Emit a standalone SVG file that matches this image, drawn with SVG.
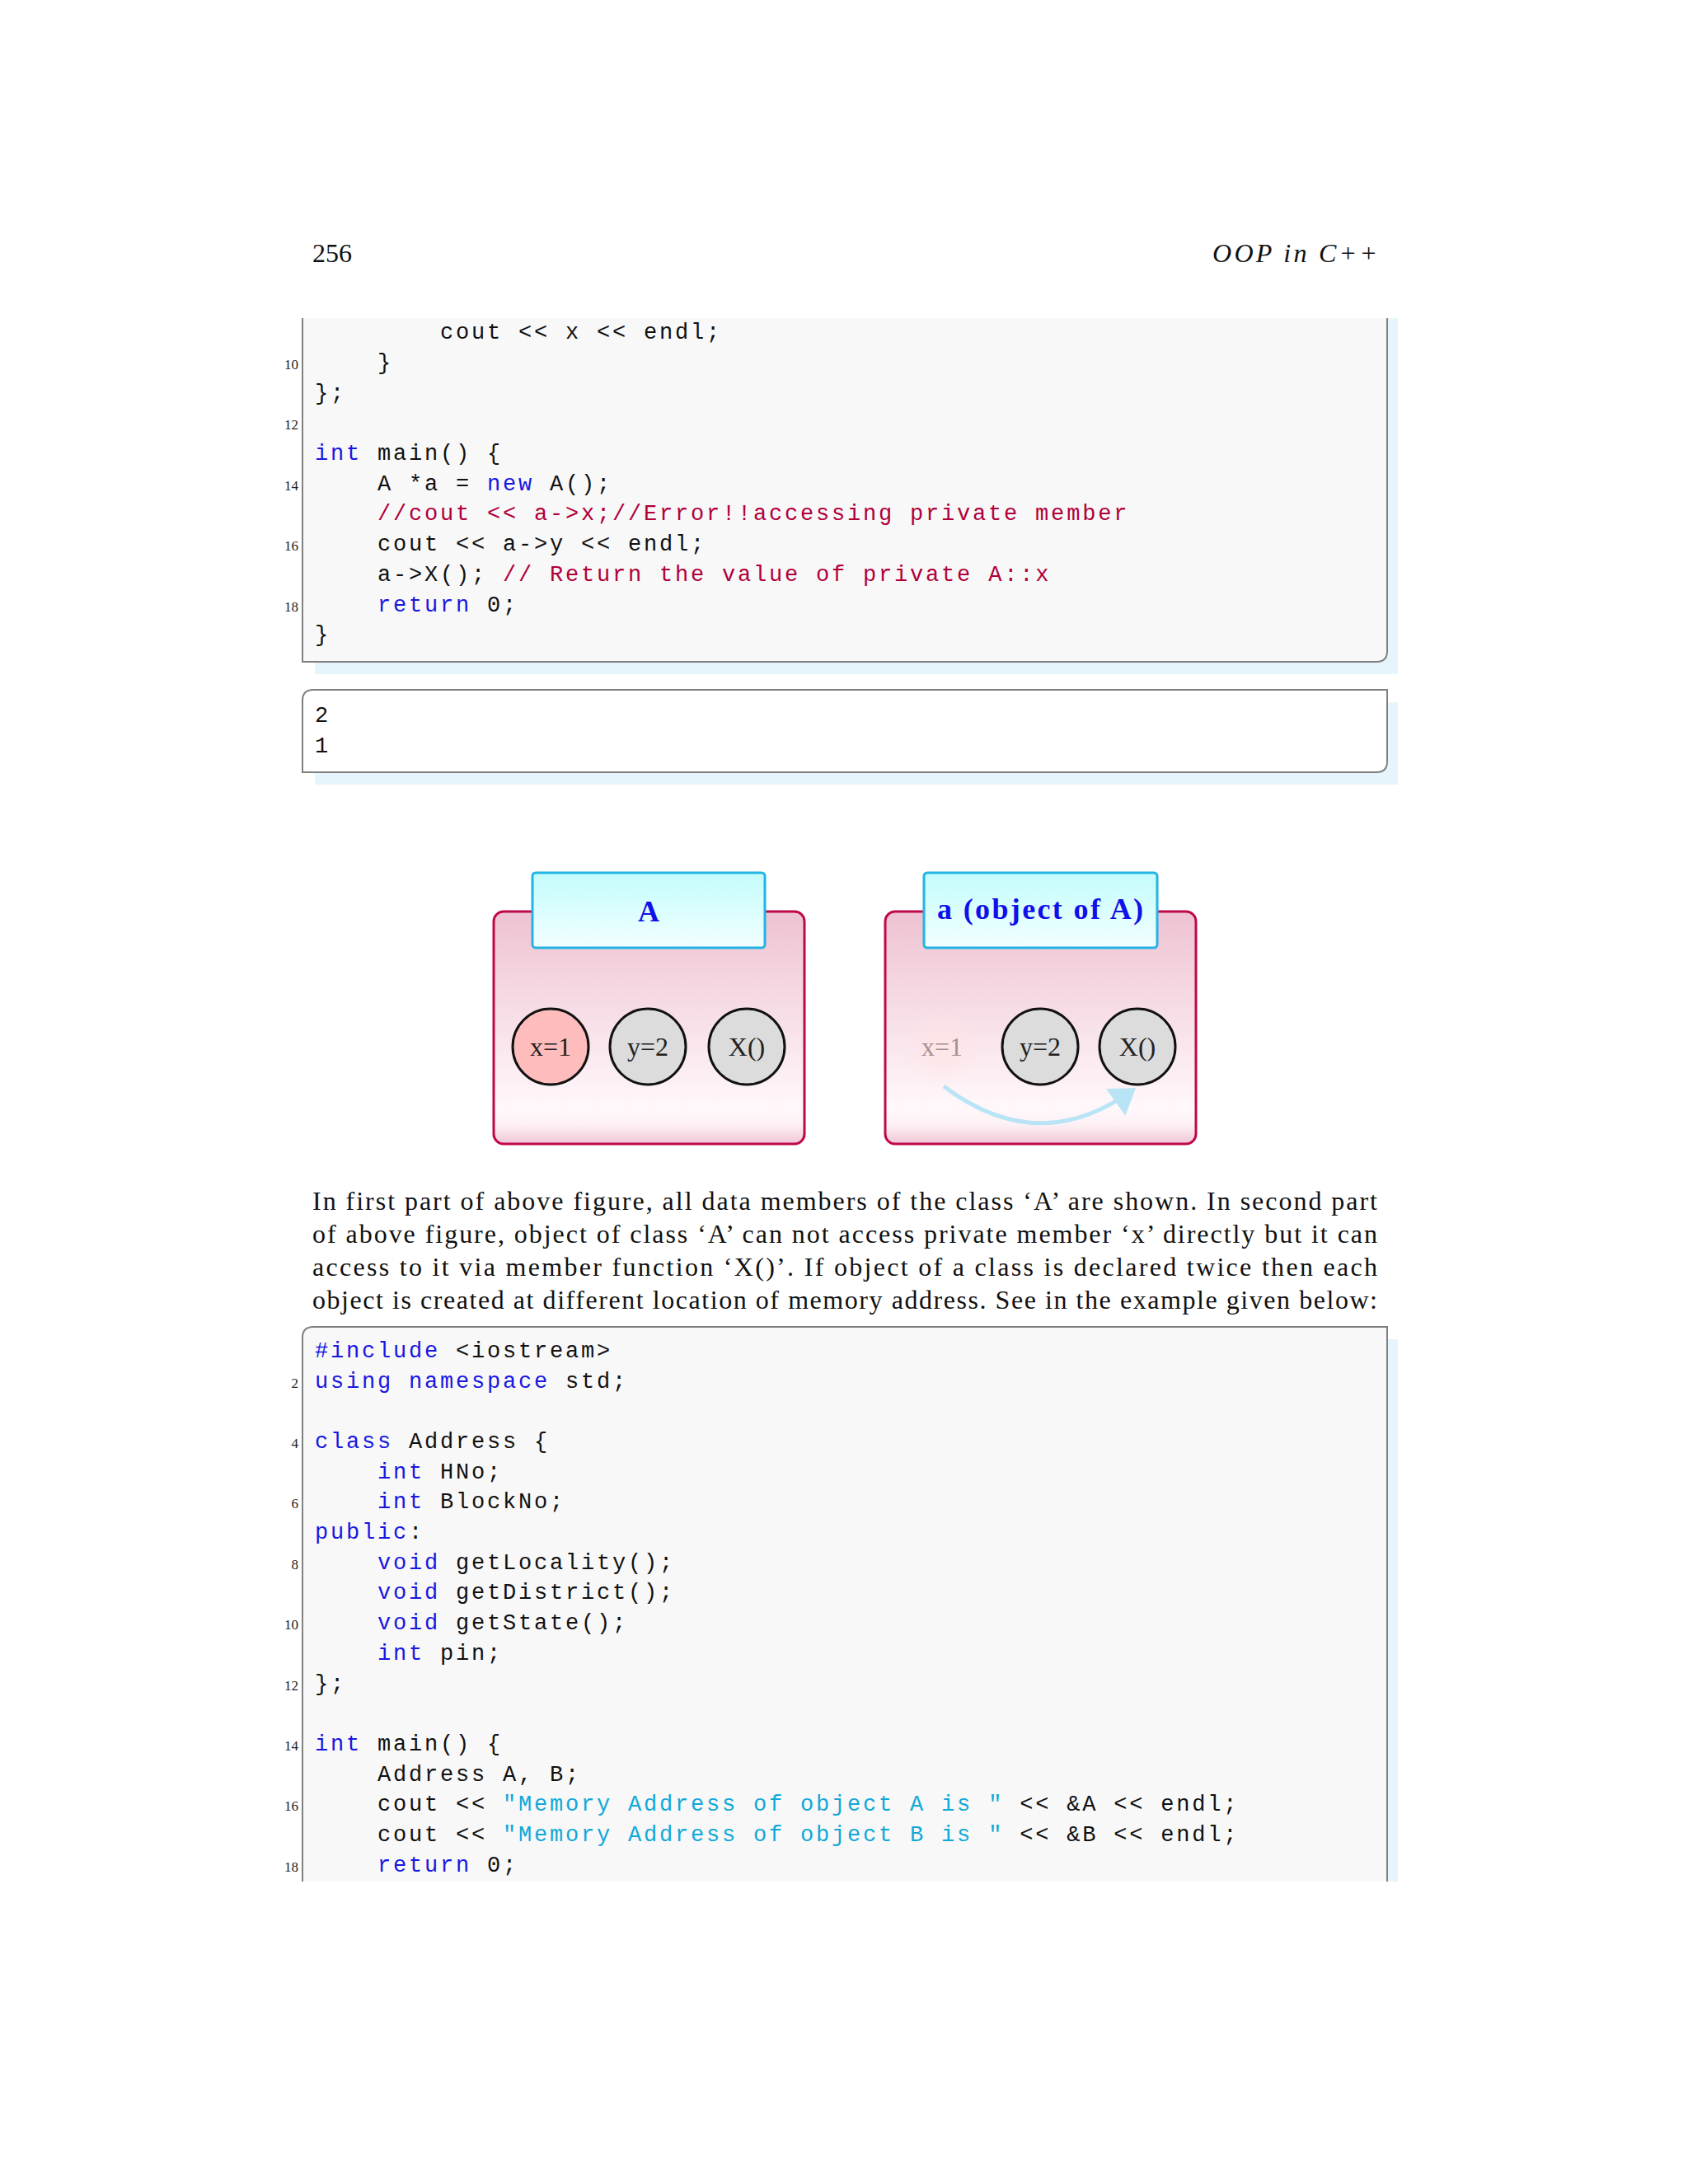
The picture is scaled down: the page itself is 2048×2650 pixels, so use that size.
<svg xmlns="http://www.w3.org/2000/svg" width="2048" height="2650" viewBox="0 0 2048 2650">
<style>
.c{font-family:"Liberation Mono",monospace;font-size:27px;letter-spacing:2.8px;fill:#111;white-space:pre}
.k{fill:#1818e0}.m{fill:#b0003a}.s{fill:#10a8d8}
.n{font-family:"Liberation Serif",serif;font-size:17px;fill:#222;text-anchor:end}
.p{font-family:"Liberation Serif",serif;font-size:32px;fill:#111}
.e{fill:#dcdcdc;stroke:#111;stroke-width:3}
.t{font-family:"Liberation Serif",serif;font-size:32px;fill:#222;text-anchor:middle}
.h{font-family:"Liberation Serif",serif;font-size:36px;font-weight:bold;fill:#1010e8;text-anchor:middle}
.box{fill:url(#pk);stroke:#c0084c;stroke-width:3}
.tb{fill:url(#cy);stroke:#22b4e4;stroke-width:3}
</style>
<defs>
<linearGradient id="pk" x1="0" y1="0" x2="0" y2="1">
<stop offset="0" stop-color="#eec2d2"/><stop offset="0.85" stop-color="#fff8fa"/><stop offset="0.92" stop-color="#fdf0f4"/><stop offset="1" stop-color="#f0c4d4"/></linearGradient>
<linearGradient id="cy" x1="0" y1="0" x2="0" y2="1"><stop offset="0" stop-color="#c4fcfc"/><stop offset="1" stop-color="#f2ffff"/></linearGradient>
<radialGradient id="gl"><stop offset="0" stop-color="#ffe4e4" stop-opacity="0.8"/><stop offset="1" stop-color="#ffe4e4" stop-opacity="0"/></radialGradient>
<marker id="ah" markerWidth="8" markerHeight="8" refX="5" refY="4" orient="auto" markerUnits="strokeWidth"><path d="M0,0 L6,4 L0,8 z" fill="#b8e4f6"/></marker>
</defs>
<rect width="2048" height="2650" fill="#fff"/>
<text x="379" y="318" class="p">256</text>
<text x="1671" y="318" class="p" text-anchor="end" font-style="italic" textLength="200" lengthAdjust="spacing">OOP in C++</text>

<g id="code1">
<rect x="382" y="386" width="1314" height="432" fill="#e6f4fb"/>
<path d="M367,386 V803 H1670 Q1683,803 1683,790 V386" fill="#f8f8f9" stroke="#808080" stroke-width="2"/>
<text class="c" x="382" y="411" xml:space="preserve">        cout &lt;&lt; x &lt;&lt; endl;</text>
<text class="c" x="382" y="448" xml:space="preserve">    }</text>
<text class="c" x="382" y="485">};</text>
<text class="c" x="382" y="558" xml:space="preserve"><tspan class="k">int</tspan> main() {</text>
<text class="c" x="382" y="595" xml:space="preserve">    A *a = <tspan class="k">new</tspan> A();</text>
<text class="c m" x="382" y="631" xml:space="preserve">    //cout &lt;&lt; a-&gt;x;//Error!!accessing private member</text>
<text class="c" x="382" y="668" xml:space="preserve">    cout &lt;&lt; a-&gt;y &lt;&lt; endl;</text>
<text class="c" x="382" y="705" xml:space="preserve">    a-&gt;X(); <tspan class="m">// Return the value of private A::x</tspan></text>
<text class="c" x="382" y="742" xml:space="preserve">    <tspan class="k">return</tspan> 0;</text>
<text class="c" x="382" y="778">}</text>
<text class="n" x="362" y="448">10</text><text class="n" x="362" y="521">12</text>
<text class="n" x="362" y="595">14</text><text class="n" x="362" y="668">16</text><text class="n" x="362" y="742">18</text>
</g>

<g id="output">
<rect x="382" y="852" width="1314" height="100" fill="#e6f4fb"/>
<path d="M380,837 H1683 V924 Q1683,937 1670,937 H367 V850 Q367,837 380,837 z" fill="#fff" stroke="#808080" stroke-width="2"/>
<text class="c" x="382" y="876">2</text>
<text class="c" x="382" y="913">1</text>
</g>

<g id="classA">
<rect class="box" x="599" y="1106" width="377" height="282" rx="12"/>
<rect class="tb" x="646" y="1059" width="282" height="91" rx="4"/>
<text class="h" x="787" y="1118">A</text>
</g>
<g id="A-x"><ellipse class="e" cx="668" cy="1270" rx="46" ry="46" style="fill:#ffbcbc"/><text class="t" x="668" y="1281">x=1</text></g>
<g id="A-y"><ellipse class="e" cx="786" cy="1270" rx="46" ry="46"/><text class="t" x="786" y="1281">y=2</text></g>
<g id="A-X"><ellipse class="e" cx="906" cy="1270" rx="46" ry="46"/><text class="t" x="906" y="1281">X()</text></g>

<g id="objectA">
<rect class="box" x="1074" y="1106" width="377" height="282" rx="12"/>
<rect class="tb" x="1121" y="1059" width="283" height="91" rx="4"/>
<text class="h" x="1262" y="1115" textLength="250" lengthAdjust="spacing">a (object of A)</text>
</g>
<g id="a-x"><circle cx="1143" cy="1270" r="50" fill="url(#gl)"/><text class="t" x="1143" y="1281" style="fill:#a89090">x=1</text></g>
<g id="a-y"><ellipse class="e" cx="1262" cy="1270" rx="46" ry="46"/><text class="t" x="1262" y="1281">y=2</text></g>
<g id="a-X"><ellipse class="e" cx="1380" cy="1270" rx="46" ry="46"/><text class="t" x="1380" y="1281">X()</text></g>
<g id="connectors">
<path d="M1145,1318 Q1260,1405 1374,1323" fill="none" stroke="#b8e4f6" stroke-width="5" marker-end="url(#ah)"/>
</g>

<g id="para">
<text class="p" x="379" y="1468" textLength="1292" lengthAdjust="spacing">In first part of above figure, all data members of the class ‘A’ are shown. In second part</text>
<text class="p" x="379" y="1508" textLength="1292" lengthAdjust="spacing">of above figure, object of class ‘A’ can not access private member ‘x’ directly but it can</text>
<text class="p" x="379" y="1548" textLength="1292" lengthAdjust="spacing">access to it via member function ‘X()’. If object of a class is declared twice then each</text>
<text class="p" x="379" y="1588" textLength="1292" lengthAdjust="spacing">object is created at different location of memory address. See in the example given below:</text>
</g>

<g id="code2">
<rect x="382" y="1625" width="1314" height="658" fill="#e6f4fb"/>
<path d="M367,2283 V1623 Q367,1610 380,1610 H1683 V2283" fill="#f8f8f9" stroke="#808080" stroke-width="2"/>
<rect x="366" y="2284" width="1332" height="10" fill="#fff"/>
<text class="c" x="382" y="1647"><tspan class="k">#include</tspan> &lt;iostream&gt;</text>
<text class="c" x="382" y="1684"><tspan class="k">using namespace</tspan> std;</text>
<text class="c" x="382" y="1757"><tspan class="k">class</tspan> Address {</text>
<text class="c" x="382" y="1794" xml:space="preserve">    <tspan class="k">int</tspan> HNo;</text>
<text class="c" x="382" y="1830" xml:space="preserve">    <tspan class="k">int</tspan> BlockNo;</text>
<text class="c" x="382" y="1867"><tspan class="k">public</tspan>:</text>
<text class="c" x="382" y="1904" xml:space="preserve">    <tspan class="k">void</tspan> getLocality();</text>
<text class="c" x="382" y="1940" xml:space="preserve">    <tspan class="k">void</tspan> getDistrict();</text>
<text class="c" x="382" y="1977" xml:space="preserve">    <tspan class="k">void</tspan> getState();</text>
<text class="c" x="382" y="2014" xml:space="preserve">    <tspan class="k">int</tspan> pin;</text>
<text class="c" x="382" y="2051">};</text>
<text class="c" x="382" y="2124"><tspan class="k">int</tspan> main() {</text>
<text class="c" x="382" y="2161" xml:space="preserve">    Address A, B;</text>
<text class="c" x="382" y="2197" xml:space="preserve">    cout &lt;&lt; <tspan class="s">"Memory Address of object A is "</tspan> &lt;&lt; &amp;A &lt;&lt; endl;</text>
<text class="c" x="382" y="2234" xml:space="preserve">    cout &lt;&lt; <tspan class="s">"Memory Address of object B is "</tspan> &lt;&lt; &amp;B &lt;&lt; endl;</text>
<text class="c" x="382" y="2271" xml:space="preserve">    <tspan class="k">return</tspan> 0;</text>
<text class="n" x="362" y="1684">2</text><text class="n" x="362" y="1757">4</text><text class="n" x="362" y="1830">6</text>
<text class="n" x="362" y="1904">8</text><text class="n" x="362" y="1977">10</text><text class="n" x="362" y="2051">12</text>
<text class="n" x="362" y="2124">14</text><text class="n" x="362" y="2197">16</text><text class="n" x="362" y="2271">18</text>
</g>
</svg>
